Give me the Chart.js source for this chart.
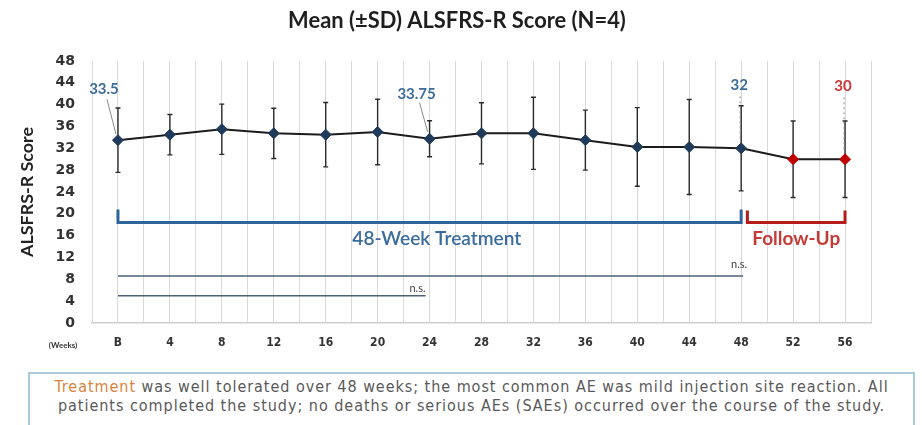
<!DOCTYPE html>
<html>
<head>
<meta charset="utf-8">
<script src="https://cdn.jsdelivr.net/npm/chart.js@4.4.0/dist/chart.umd.min.js"></script>
<style>
  html, body { margin:0; padding:0; background:#fff; overflow:hidden; width:922px; height:425px; }
  #wrap { position:relative; width:922px; height:425px; }
  #chart { position:absolute; left:0; top:0; }
  #note { position:absolute; left:28px; top:372px; width:887px; height:80px; box-sizing:border-box;
          border:2px solid #A9CCDA; background:#fff; padding-top:3px; text-align:center;
          font-family:'Liberation Sans Narrow', 'DejaVu Sans Condensed', Arial, sans-serif; font-size:16px; line-height:19px; color:#595959; white-space:nowrap; }
  #note .hl { color:#D8843E; }
</style>
</head>
<body>
<div id="wrap">
  <canvas id="chart" width="922" height="425"></canvas>
  <div id="note">
    <div id="l1"><span class="hl">Treatment</span> was well tolerated over 48 weeks; the most common AE was mild injection site reaction. All</div>
    <div id="l2">patients completed the study; no deaths or serious AEs (SAEs) occurred over the course of the study.</div>
  </div>
</div>
<script>
// ---------- data ----------
const weeks = ['B','4','8','12','16','20','24','28','32','36','40','44','48','52','56'];
const meanScore = [33.5, 34.5, 35.5, 34.75, 34.5, 35, 33.75, 34.75, 34.75, 33.5, 32.25, 32.25, 32, 30, 30];
const sdScore   = [5.9, 3.7, 4.6, 4.6, 5.9, 6.0, 3.3, 5.6, 6.6, 5.5, 7.2, 8.7, 7.8, 7.0, 7.0];
const labelledIdx = [0, 6, 12, 14];
const scoreTicks = [0, 4, 8, 12, 16, 20, 24, 28, 32, 36, 40, 44, 48];
const treatmentEndIdx = 12;   // week 48
const followUpEndIdx = 14;    // week 56

// ---------- styles ----------
const NAVY = '#1F3A5A', RED = '#C00000', LBLUE = '#3C6C9C', LRED = '#D03434';
const FAM = "Lato, 'Open Sans', sans-serif";

function fitSize(ctx, text, weight, family, target) {
  ctx.font = `${weight} 20px ${family}`;
  return 20 * target / ctx.measureText(text).width;
}

// label placement (pixel offsets from the point) and leader styles
const labelStyle = {
  0:  { dx: -14, dy: -51, color: LBLUE, lead: [[-11, -41], [-2, -6]], dash: [] },
  6:  { dx: -13, dy: -45, color: LBLUE, lead: [[-10, -36], [-2, -7]], dash: [] },
  12: { dx: -2,  dy: -63, color: LBLUE, lead: [[-1, -52], [-1, -8]], dash: [2, 3] },
  14: { dx: -2,  dy: -73, color: LRED,  lead: [[-1, -62], [-1, -8]], dash: [2, 3] }
};

const deco = {
  id: 'deco',
  beforeDatasetsDraw(chart) {
    const { ctx, scales: { x, y } } = chart;
    ctx.save();
    // horizontal significance lines
    ctx.strokeStyle = '#4E6177'; ctx.lineWidth = 1.6;
    ctx.beginPath();
    ctx.moveTo(x.getPixelForValue(0), y.getPixelForValue(8.6));
    ctx.lineTo(x.getPixelForValue(treatmentEndIdx) + 2, y.getPixelForValue(8.6));
    ctx.moveTo(x.getPixelForValue(0), y.getPixelForValue(5.0));
    ctx.lineTo(x.getPixelForValue(6) - 4, y.getPixelForValue(5.0));
    ctx.stroke();
    ctx.fillStyle = '#3f3f3f'; ctx.font = `11px ${FAM}`; ctx.textAlign = 'right'; ctx.textBaseline = 'middle';
    ctx.fillText('n.s.', x.getPixelForValue(treatmentEndIdx) + 6, y.getPixelForValue(10.8));
    ctx.fillText('n.s.', x.getPixelForValue(6) - 4, y.getPixelForValue(6.4));

    // treatment bracket
    const by = y.getPixelForValue(18.4), bt = y.getPixelForValue(20.8);
    ctx.lineWidth = 3; ctx.strokeStyle = '#2D6598'; ctx.lineJoin = 'miter';
    ctx.beginPath();
    ctx.moveTo(x.getPixelForValue(0), bt); ctx.lineTo(x.getPixelForValue(0), by);
    ctx.lineTo(x.getPixelForValue(treatmentEndIdx), by); ctx.lineTo(x.getPixelForValue(treatmentEndIdx), bt);
    ctx.stroke();
    // follow-up bracket
    ctx.strokeStyle = '#B71C1C';
    ctx.beginPath();
    ctx.moveTo(x.getPixelForValue(treatmentEndIdx + 0.12), bt + 1); ctx.lineTo(x.getPixelForValue(treatmentEndIdx + 0.12), by);
    ctx.lineTo(x.getPixelForValue(followUpEndIdx), by); ctx.lineTo(x.getPixelForValue(followUpEndIdx), bt + 1);
    ctx.stroke();
    // bracket texts
    const ty = y.getPixelForValue(15.4);
    ctx.textAlign = 'center'; ctx.textBaseline = 'middle';
    let s = fitSize(ctx, '48-Week Treatment', '600', FAM, 169);
    ctx.font = `600 ${s}px ${FAM}`; ctx.fillStyle = '#3A6C9E';
    ctx.fillText('48-Week Treatment', x.getPixelForValue(6.14), ty);
    s = fitSize(ctx, 'Follow-Up', 'bold', FAM, 88);
    ctx.font = `bold ${s}px ${FAM}`; ctx.fillStyle = '#C43A36';
    ctx.fillText('Follow-Up', x.getPixelForValue(13.06), ty);

    // error bars
    ctx.strokeStyle = '#2a2a2a'; ctx.lineWidth = 1.4;
    meanScore.forEach((m, i) => {
      const px = x.getPixelForValue(i);
      const top = y.getPixelForValue(m + sdScore[i]);
      const bot = y.getPixelForValue(m - sdScore[i]);
      ctx.beginPath();
      ctx.moveTo(px, top); ctx.lineTo(px, bot);
      ctx.moveTo(px - 2.5, top); ctx.lineTo(px + 2.5, top);
      ctx.moveTo(px - 2.5, bot); ctx.lineTo(px + 2.5, bot);
      ctx.stroke();
    });

    // data labels + leader lines
    labelledIdx.forEach(i => {
      const st = labelStyle[i];
      const px = x.getPixelForValue(i), py = y.getPixelForValue(meanScore[i]);
      ctx.strokeStyle = '#8a8a8a'; ctx.lineWidth = 1; ctx.setLineDash(st.dash);
      ctx.beginPath();
      ctx.moveTo(px + st.lead[0][0], py + st.lead[0][1]);
      ctx.lineTo(px + st.lead[1][0], py + st.lead[1][1]);
      ctx.stroke();
      ctx.setLineDash([]);
      ctx.font = `bold 15px ${FAM}`; ctx.fillStyle = st.color;
      ctx.textAlign = 'center'; ctx.textBaseline = 'middle';
      ctx.fillText(String(meanScore[i]), px + st.dx, py + st.dy);
    });
    ctx.restore();
  },
  afterDraw(chart) {
    const { ctx } = chart;
    ctx.save();
    ctx.fillStyle = '#1e1e1e'; ctx.textAlign = 'center'; ctx.textBaseline = 'middle';
    const title = 'Mean (\u00B1SD) ALSFRS-R Score (N=4)';
    let s = fitSize(ctx, title, 'bold', FAM, 338);
    ctx.font = `bold ${s}px ${FAM}`;
    ctx.fillText(title, 457, 21);
    // y title
    ctx.save();
    ctx.translate(27, 192); ctx.rotate(-Math.PI / 2);
    s = fitSize(ctx, 'ALSFRS-R Score', 'bold', FAM, 130);
    ctx.font = `bold ${s}px ${FAM}`; ctx.fillStyle = '#222';
    ctx.fillText('ALSFRS-R Score', 0, 0);
    ctx.restore();
    // (Weeks)
    ctx.font = `bold 8px ${FAM}`; ctx.fillStyle = '#333';
    ctx.fillText('(Weeks)', 63, 345);
    ctx.restore();
  }
};

const ctx = document.getElementById('chart').getContext('2d');
new Chart(ctx, {
  type: 'line',
  data: {
    datasets: [{
      data: meanScore.map((v, i) => ({ x: i, y: v })),
      borderColor: '#1c1c1c',
      borderWidth: 2,
      pointStyle: 'rectRot',
      pointRadius: 5.5,
      pointBorderWidth: 1,
      pointBackgroundColor: meanScore.map((v, i) => i > treatmentEndIdx ? RED : NAVY),
      pointBorderColor: meanScore.map((v, i) => i > treatmentEndIdx ? RED : NAVY),
      tension: 0
    }]
  },
  options: {
    responsive: false,
    animation: false,
    devicePixelRatio: 1,
    layout: { padding: { top: 61, right: 51, bottom: 72, left: 0 } },
    plugins: { legend: { display: false }, tooltip: { enabled: false }, title: { display: false } },
    scales: {
      x: {
        type: 'linear', min: -0.5, max: weeks.length - 0.5,
        afterFit(scale) { scale.height = 30; },
        grid: { color: '#DADADA', lineWidth: 1, drawTicks: false },
        border: { color: '#CFCFCF', width: 1.5 },
        ticks: {
          stepSize: 0.5, autoSkip: false, maxRotation: 0, padding: 13,
          font: { family: "'DejaVu Sans Condensed', 'DejaVu Sans', sans-serif", size: 12, weight: 'bold' },
          color: '#333',
          callback: v => Number.isInteger(v) ? weeks[v] : ''
        }
      },
      y: {
        min: scoreTicks[0], max: scoreTicks[scoreTicks.length - 1],
        afterFit(scale) { scale.width = 92; },
        grid: { display: false, drawTicks: false },
        border: { display: false },
        ticks: {
          stepSize: 4, padding: 17,
          font: { family: "'DejaVu Sans', sans-serif", size: 14, weight: 'bold' },
          color: '#333'
        }
      }
    }
  },
  plugins: [deco]
});

// fit the note lines to the measured widths
(function () {
  const c = document.createElement('canvas').getContext('2d');
  c.font = "16px 'Liberation Sans Narrow', 'DejaVu Sans Condensed', Arial, sans-serif";
  [['l1', 834], ['l2', 827]].forEach(([id, target]) => {
    const el = document.getElementById(id);
    const t = el.textContent;
    const w = c.measureText(t).width;
    const ls = (target - w) / t.length;
    el.style.letterSpacing = ls.toFixed(2) + 'px';
  });
})();
</script>
</body>
</html>
